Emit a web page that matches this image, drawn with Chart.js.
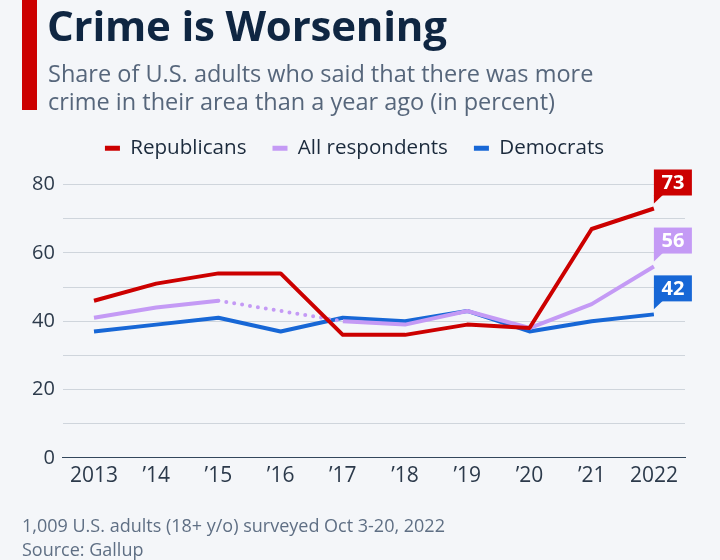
<!DOCTYPE html>
<html>
<head>
<meta charset="utf-8">
<script src="https://cdn.jsdelivr.net/npm/chart.js@4"></script>
<style>
  html, body { margin:0; padding:0; background:#f4f6f9; }
  #wrap { position:relative; width:720px; height:560px; overflow:hidden; background:#f4f6f9; }
  #bar { position:absolute; left:22px; top:0; width:15px; height:110px; background:#cc0000; }
  #title { position:absolute; left:47px; top:-4px; font-family:'Open Sans', sans-serif; font-weight:700; font-size:42px; color:#0f2642; white-space:nowrap; letter-spacing:-0.2px; }
  #sub { position:absolute; left:48px; top:59px; font-family:'Open Sans', sans-serif; font-size:23.5px; line-height:28px; color:#56667b; white-space:nowrap; }
  #foot { position:absolute; left:22px; top:513px; font-family:'Open Sans', sans-serif; font-size:18px; line-height:24px; color:#5f6f84; white-space:nowrap; }
  canvas { position:absolute; left:0; top:0; }
</style>
</head>
<body>
<div id="wrap">
  <canvas id="c" width="720" height="560"></canvas>
  <div id="bar"></div>
  <div id="title">Crime is Worsening</div>
  <div id="sub">Share of U.S. adults who said that there was more<br>crime in their area than a year ago (in percent)</div>
  <div id="foot">1,009 U.S. adults (18+ y/o) surveyed Oct 3-20, 2022<br>Source: Gallup</div>
</div>
<script>
const years = ["2013", "\u201914", "\u201915", "\u201916", "\u201917", "\u201918", "\u201919", "\u201920", "\u201921", "2022"];
const republicans = [46, 51, 54, 54, 36, 36, 39, 38, 67, 73];
const allRespondents = [41, 44, 46, null, 40, 39, 43, 38, 45, 56];
const democrats = [37, 39, 41, 37, 41, 40, 43, 37, 40, 42];
const yTicks = [0, 20, 40, 60, 80];

const RED = '#cc0000', PURPLE = '#c49af5', BLUE = '#1767d6';

const gap = (ctx) => (ctx.p0.skip || ctx.p1.skip || (ctx.p1DataIndex - ctx.p0DataIndex) > 1);

const endLabels = {
  id: 'endLabels',
  afterDatasetsDraw(chart) {
    const ctx = chart.ctx;
    chart.data.datasets.forEach((ds, i) => {
      const meta = chart.getDatasetMeta(i);
      const n = ds.data.length - 1;
      const pt = meta.data[n];
      const x = pt.x, y = pt.y;
      ctx.save();
      ctx.fillStyle = ds.borderColor;
      ctx.fillRect(x, y - 39, 38, 26);
      ctx.beginPath();
      ctx.moveTo(x, y - 13.5);
      ctx.lineTo(x, y - 5);
      ctx.lineTo(x + 9, y - 13.5);
      ctx.closePath();
      ctx.fill();
      ctx.fillStyle = '#ffffff';
      ctx.font = "700 20px 'Open Sans', sans-serif";
      ctx.textAlign = 'center';
      ctx.textBaseline = 'middle';
      ctx.fillText(String(ds.data[n]), x + 19, y - 25);
      ctx.restore();
    });
  }
};

const legendSpace = {
  id: 'legendSpace',
  beforeInit(chart) {
    const orig = chart.legend.fit;
    chart.legend.fit = function () { orig.call(this); this.height += 16; };
  }
};

new Chart(document.getElementById('c'), {
  type: 'line',
  data: {
    labels: years,
    datasets: [
      { label: 'Republicans', data: republicans, borderColor: RED, backgroundColor: RED },
      { label: 'All respondents', data: allRespondents, borderColor: PURPLE, backgroundColor: PURPLE, spanGaps: true,
        segment: {
          borderDash: ctx => gap(ctx) ? [0, 8] : undefined,
          borderCapStyle: ctx => gap(ctx) ? 'round' : undefined
        } },
      { label: 'Democrats', data: democrats, borderColor: BLUE, backgroundColor: BLUE }
    ]
  },
  options: {
    responsive: false,
    animation: false,
    events: [],
    layout: { padding: { top: 112, left: 24, right: 35, bottom: 65 } },
    elements: {
      line: { borderWidth: 4, tension: 0, borderJoinStyle: 'round', fill: false },
      point: { radius: 0, hoverRadius: 0 }
    },
    plugins: {
      tooltip: { enabled: false },
      legend: {
        position: 'top',
        labels: {
          boxWidth: 15, boxHeight: 5, padding: 26,
          color: '#1b2a3c',
          font: { family: "'Open Sans', sans-serif", size: 20.6 },
          generateLabels(chart) {
            return chart.data.datasets.map((ds, i) => ({
              text: ds.label, fillStyle: ds.borderColor, strokeStyle: ds.borderColor,
              lineWidth: 0, hidden: false, datasetIndex: i, fontColor: '#1b2a3c'
            }));
          }
        }
      }
    },
    scales: {
      x: {
        offset: true,
        grid: { display: false, drawTicks: false },
        border: { display: true, color: '#33475c', width: 1 },
        ticks: { padding: 6, color: '#2c3a4b', font: { family: "'Open Sans', sans-serif", size: 21 }, maxRotation: 0, autoSkip: false }
      },
      y: {
        min: 0, max: 80,
        grid: { color: '#cfd5dc', lineWidth: 1, drawTicks: false },
        border: { display: false },
        ticks: {
          stepSize: 10, padding: 8, color: '#2c3a4b',
          font: { family: "'Open Sans', sans-serif", size: 20 },
          callback: v => yTicks.includes(v) ? String(v) : ''
        }
      }
    }
  },
  plugins: [endLabels, legendSpace]
});
</script>
</body>
</html>
